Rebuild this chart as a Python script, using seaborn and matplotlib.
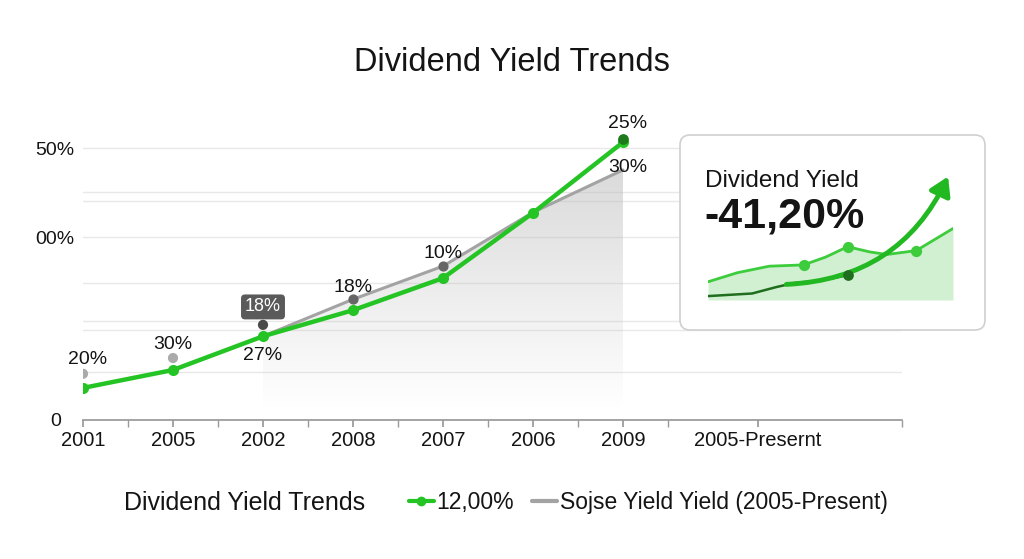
import numpy as np
import pandas as pd
import matplotlib
matplotlib.use("Agg")
import matplotlib.pyplot as plt
from matplotlib.patches import FancyBboxPatch
from matplotlib.lines import Line2D
import seaborn as sns

# x categories as printed on the chart (order as shown)
years = ["2001", "2005", "2002", "2008", "2007", "2006", "2009"]
extra_label = "2005-Presernt"

# main green series
green_vals = [5.9, 9.2, 15.4, 20.2, 26.1, 38.1, 51.1]
green_labels = ["20%", "30%", "27%", "", "", "", "25%"]

# grey comparison series, starts at 2002
grey_years = ["2002", "2008", "2007", "2006", "2009"]
grey_vals = [15.4, 22.2, 28.3, 38.2, 46.0]
grey_labels = ["", "18%", "10%", "", "30%"]

# loose dots above the first points
dot_years = ["2001", "2005", "2002"]
dot_vals = [8.5, 11.4, 17.5]
dot_colors = ["#aaaaaa", "#aaaaaa", "#4a4a4a"]
box_label = "18%"

ytick_vals = [0, 33.6, 50]
ytick_labels = ["0", "00%", "50%"]
grid_levels = [50.0, 41.9, 40.3, 33.6, 25.2, 18.2, 16.5, 8.8]

# inset sparkline data
spark_x_light = [0, 1.2, 2.5, 3.9, 4.8, 5.7, 6.6, 7.3, 8.5, 10]
spark_y_light = [1.4, 2.1, 2.6, 2.7, 3.3, 4.1, 3.7, 3.5, 3.8, 5.5]
spark_x_dark = [0, 1.8, 2.8, 3.5, 4.6, 5.7]
spark_y_dark = [0.3, 0.5, 1.0, 1.3, 1.5, 1.9]
inset_title = "Dividend Yield"
inset_value = "-41,20%"

GREEN = "#25c425"
GREY = "#a3a3a3"
INK = "#141414"

sns.set_theme(style="white")
plt.rcParams["font.family"] = ["Liberation Sans", "DejaVu Sans"]
plt.rcParams["text.color"] = INK
plt.rcParams["xtick.color"] = INK
plt.rcParams["ytick.color"] = INK

fig = plt.figure(figsize=(10.24, 5.59), dpi=100)
ax = fig.add_axes([83 / 1024, 139 / 559, 819 / 1024, 299 / 559])

pos = {y: i for i, y in enumerate(years)}
df_green = pd.DataFrame({"x": [pos[y] for y in years], "y": green_vals})
df_grey = pd.DataFrame({"x": [pos[y] for y in grey_years], "y": grey_vals})

for lvl in grid_levels:
    ax.axhline(lvl, color="#e8e8e8", lw=1.0, zorder=0)

# gradient fill under the grey line
fill = ax.fill_between(df_grey["x"], 0, df_grey["y"], color="none", lw=0)
grad = np.zeros((200, 2, 4))
grad[..., :3] = 0.74
grad[..., 3] = np.linspace(0.55, 0.0, 200)[:, None]
img = ax.imshow(grad, extent=[df_grey["x"].min(), df_grey["x"].max(), 2, max(grey_vals)],
                aspect="auto", zorder=1)
img.set_clip_path(fill.get_paths()[0], transform=ax.transData)

sns.lineplot(data=df_grey, x="x", y="y", ax=ax, color=GREY, lw=2.2, zorder=2)
ax.scatter(df_grey["x"][1:3], df_grey["y"][1:3], s=40, color="#666666", zorder=3)
sns.lineplot(data=df_green, x="x", y="y", ax=ax, color=GREEN, lw=3.2,
             marker="o", markersize=8, markeredgewidth=0, zorder=4)
ax.scatter([pos[years[-1]]], [green_vals[-1] + 0.5], s=45, color="#1c7a1c", zorder=5)

ax.scatter([pos[y] for y in dot_years], dot_vals, s=40, color=dot_colors, zorder=3)

# value labels
lab = dict(ha="center", va="center", fontsize=14)
ax.text(0.05, 11.2, green_labels[0], **lab)
ax.text(1.0, 13.8, green_labels[1], **lab)
ax.text(2.0, 11.9, green_labels[2], **lab)
ax.text(2.0, 20.8, box_label, ha="center", va="center", fontsize=13, color="white",
        bbox=dict(boxstyle="round,pad=0.22", fc="#5a5a5a", ec="none"))
ax.text(3.0, 24.3, grey_labels[1], **lab)
ax.text(4.0, 30.7, grey_labels[2], **lab)
ax.text(6.05, 54.6, green_labels[6], **lab)
ax.text(6.05, 46.5, grey_labels[4], **lab)

ax.set_xlim(0, 9.1)
ax.set_ylim(0, 55)
ax.set_xticks(list(range(len(years))) + [7.5])
ax.set_xticklabels(years + [extra_label], fontsize=14.5)
ax.set_xticks([i + 0.5 for i in range(len(years))] + [9.1], minor=True)
ax.tick_params(axis="x", which="both", direction="out", length=5, color="#999999",
               bottom=True, pad=3)
ax.set_yticks(ytick_vals)
ax.set_yticklabels(ytick_labels, fontsize=14, ha="center")
ax.tick_params(axis="y", length=0, pad=20)
ax.set_xlabel("")
ax.set_ylabel("")
sns.despine(ax=ax, left=True)
ax.spines["bottom"].set_color("#999999")
ax.grid(False)

fig.text(0.5, 1 - 62 / 559, "Dividend Yield Trends", ha="center", va="center", fontsize=23.5)

# inset card
card = FancyBboxPatch((680, 559 - 330), 305, 195, boxstyle="round,pad=0,rounding_size=10",
                      transform=None, fc="white", ec="#d0d0d0", lw=1.2, zorder=5)
fig.patches.append(card)
fig.text(705 / 1024, 1 - 181 / 559, inset_title, fontsize=17.5, va="center", zorder=6)
fig.text(704 / 1024, 1 - 217 / 559, inset_value, fontsize=31, fontweight="bold",
         va="center", zorder=6)

sp = fig.add_axes([708 / 1024, 259 / 559, 245 / 1024, 130 / 559])
sp.set_zorder(6)
sp.patch.set_alpha(0)
sp.fill_between(spark_x_light, 0, spark_y_light, color="#c6ecc6", alpha=0.8, lw=0)
sns.lineplot(x=spark_x_light, y=spark_y_light, ax=sp, color="#3ccc3c", lw=2)
sp.scatter([spark_x_light[i] for i in (3, 5, 8)], [spark_y_light[i] for i in (3, 5, 8)],
           s=50, color="#3ccc3c", zorder=4)
sns.lineplot(x=spark_x_dark, y=spark_y_dark, ax=sp, color="#1e6e1e", lw=1.8)
sp.scatter([spark_x_dark[-1]], [spark_y_dark[-1]], s=45, color="#1e6e1e", zorder=4)
sp.annotate("", xy=(9.8, 9.5), xytext=(3.2, 1.2),
            arrowprops=dict(arrowstyle="-|>,head_length=0.9,head_width=0.55", color="#22b822",
                            lw=3.5, connectionstyle="arc3,rad=0.3", shrinkA=0, shrinkB=0))
sp.set_xlim(0, 10)
sp.set_ylim(0, 10)
sp.axis("off")

# legend row
fig.text(124 / 1024, 1 - 503 / 559, "Dividend Yield Trends", fontsize=18, va="center")
handles = [Line2D([], [], color=GREEN, lw=3, marker="o", markersize=6),
           Line2D([], [], color=GREY, lw=3)]
fig.legend(handles, ["12,00%", "Sojse Yield Yield (2005-Present)"], loc="center left",
           bbox_to_anchor=(388 / 1024, 1 - 503 / 559), ncol=2, frameon=False, fontsize=16.5,
           handlelength=1.1, handletextpad=0.1, columnspacing=0.8)

fig.savefig("out.png", dpi=100)
